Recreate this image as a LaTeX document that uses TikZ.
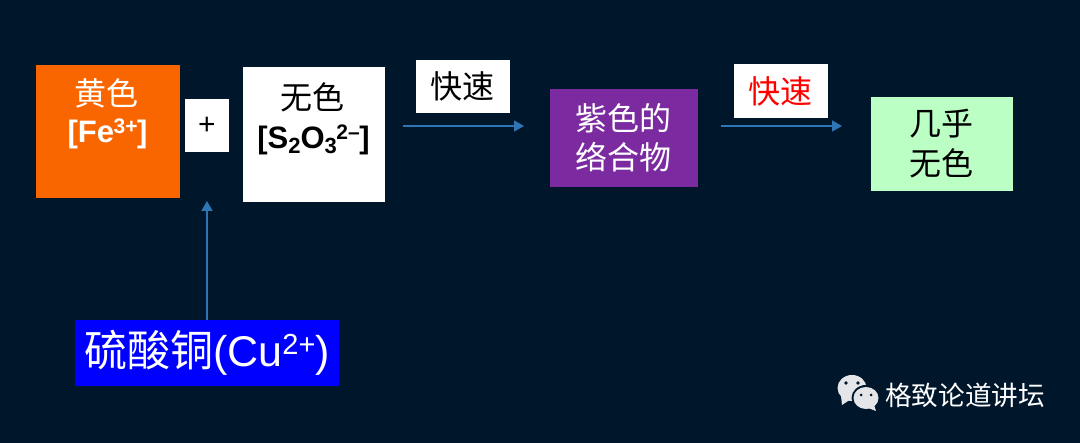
\documentclass[tikz,border=0pt]{standalone}
\usepackage{fontspec}
\setmainfont{Liberation Sans}
\newfontfamily\cjk{Noto Sans CJK SC}[BoldFont={Noto Sans CJK SC}]
\usetikzlibrary{arrows.meta}
\definecolor{bgdark}{HTML}{00162B}
\definecolor{arrowblue}{HTML}{2E75B6}
\definecolor{orangebox}{HTML}{F96600}
\definecolor{purplebox}{HTML}{7B2AA0}
\definecolor{greenbox}{HTML}{BBFFC4}
\definecolor{bluebox}{HTML}{0000FF}
\definecolor{iconfill}{HTML}{E4E5E8}
\newcommand{\fsz}[1]{\fontsize{#1}{#1}\selectfont}
\newcommand{\upx}[1]{\kern-0.5pt\raisebox{9pt}{\fsz{21}#1}\kern-0.5pt}
\newcommand{\dnx}[1]{\raisebox{-5pt}{\fsz{22}#1}}
\tikzset{
  box/.style={rectangle,inner sep=0pt,outer sep=0pt,anchor=center},
  flow/.style={draw=arrowblue,line width=1.5pt,-{Triangle[length=10pt,width=11pt]}},
  cjktext/.style={inner sep=0pt,outer sep=0pt,font=\cjk\fsz{32},anchor=center},
  chem/.style={inner sep=0pt,outer sep=0pt,font=\bfseries\fsz{31},anchor=center},
}
\begin{document}
\begin{tikzpicture}[x=1pt,y=-1pt]
\useasboundingbox (0,0) rectangle (1080,443);
\fill[bgdark] (0,0) rectangle (1080,443);
% boxes
\node[box,fill=orangebox,minimum width=144pt,minimum height=133pt] (fe) at (108,131.5) {};
\node[box,fill=white,minimum width=44pt,minimum height=53pt,font=\fsz{30}] (plus) at (207,125.5) {\raisebox{-5pt}{+}};
\node[box,fill=white,minimum width=142pt,minimum height=135pt] (s) at (314,134.5) {};
\node[box,fill=white,minimum width=94pt,minimum height=53pt,font=\cjk\fsz{32}] (fast1) at (463,86.5) {\kern-2pt\raisebox{1pt}{快速}};
\node[box,fill=purplebox,minimum width=148pt,minimum height=98pt,text=white,align=center,font=\cjk\fsz{32}] (purple) at (624,138) {\kern-2pt紫色的\\[7pt]\kern-2pt络合物};
\node[box,fill=white,minimum width=94pt,minimum height=54pt,text=red,font=\cjk\fsz{32}] (fast2) at (781,91) {\kern-2pt快速};
\node[box,fill=greenbox,minimum width=142pt,minimum height=94pt,align=center,font=\cjk\fsz{32}] (green) at (942,144) {\kern-2pt几乎\\[8pt]\kern-2pt无色};
\node[box,fill=bluebox,minimum width=264pt,minimum height=66pt,text=white,font=\fsz{43}] (cu) at (207,353) {{\cjk 硫酸铜}(Cu\raisebox{12pt}{\fsz{29}2+})};
% box texts
\node[cjktext,text=white] (fe1) at (106.5,93) {黄色};
\node[chem,text=white] (fe2) at (107.5,134) {[Fe\upx{3+}]};
\node[cjktext] (s1) at (312.5,97) {无色};
\node[chem] (s2) at (313.5,140) {[S\dnx{2}O\dnx{3}\upx{2–}]};
% connectors
\coordinate (a1s) at (403,126);
\coordinate (a1e) at (524,126);
\coordinate (a2s) at (721,126);
\coordinate (a2e) at (842,126);
\coordinate (a3e) at (207,201);
\draw[flow] (a1s) -- (a1e);
\draw[flow] (a2s) -- (a2e);
\draw[flow] (cu.north) -- (a3e);
% WeChat mark
\fill[iconfill] (841,396) -- (842,405) -- (851,399) -- cycle;
\fill[iconfill] (852,388) ellipse [x radius=14.5pt,y radius=13pt];
\fill[bgdark] (866,398) ellipse [x radius=14.5pt,y radius=13pt];
\fill[iconfill] (874,405) -- (876,411) -- (868,408) -- cycle;
\fill[iconfill] (866,398) ellipse [x radius=12.5pt,y radius=11pt];
\fill[bgdark] (846,383) circle [radius=1.8pt] (858,383) circle [radius=1.8pt] (861,395) circle [radius=1.5pt] (871,395) circle [radius=1.5pt];
\node[inner sep=0pt,anchor=west,text=white,font=\cjk\fsz{26.6}] (brand) at (885,395) {格致论道讲坛};
\end{tikzpicture}
\end{document}
